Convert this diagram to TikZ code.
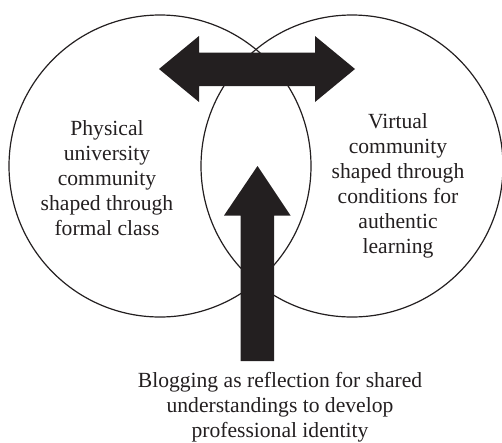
\documentclass[tikz,border=0pt]{standalone}
\usepackage{fontspec}
\setmainfont{Liberation Serif}
\definecolor{ink}{HTML}{231F20}
\begin{document}
\begin{tikzpicture}[x=1pt,y=-1pt,
  ring/.style={draw=ink,line width=1.2pt,circle,minimum size=302pt,inner sep=0pt},
  label/.style={align=center,text=ink,font=\fontsize{21.6pt}{25pt}\selectfont,inner sep=0pt},
  bigarrow/.style={fill=ink,draw=none}]
\useasboundingbox (0,0) rectangle (502,442);
\node[ring] (leftc) at (160,166) {};
\node[ring] (rightc) at (352,166) {};
\fill[bigarrow] (159,69) -- (199,36) -- (199,52.5) -- (315,52.5) -- (315,36) -- (355,69)
  -- (315,102) -- (315,86) -- (199,86) -- (199,102) -- cycle;
\fill[bigarrow] (257.5,166) -- (290.5,215.5) -- (274,215.5) -- (274,361) -- (240.5,361)
  -- (240.5,215.5) -- (224,215.5) -- cycle;
\node[label] (phys) at (107,178) {Physical\\university\\community\\shaped through\\formal class};
\node[label] (virt) at (398,186) {Virtual\\community\\shaped through\\conditions for\\authentic\\learning};
\node[label] (blog) at (280,407) {Blogging as reflection for shared\\understandings to develop\\professional identity};
\end{tikzpicture}
\end{document}
